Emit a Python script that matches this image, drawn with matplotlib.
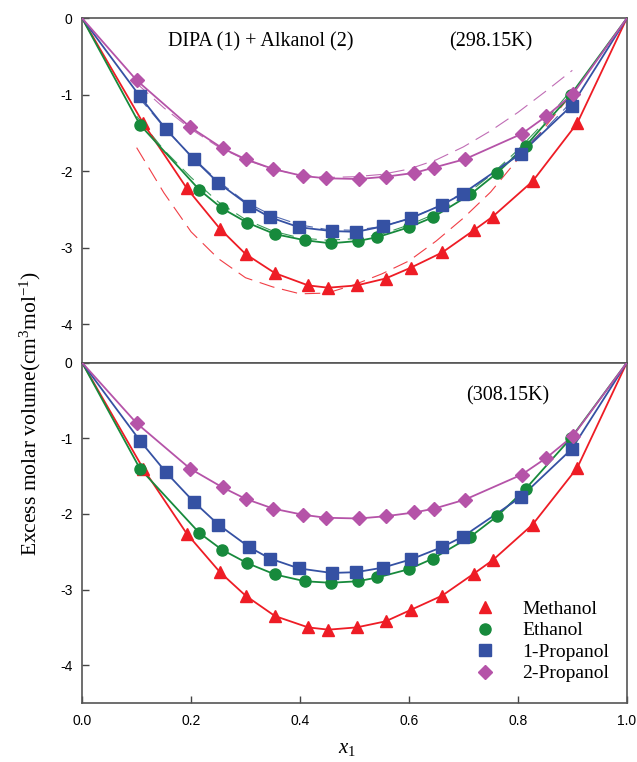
import numpy as np
import matplotlib
matplotlib.use("Agg")
import matplotlib.pyplot as plt
from matplotlib.lines import Line2D

plt.rcParams['font.family'] = ['Liberation Sans', 'DejaVu Sans']
plt.rcParams['mathtext.fontset'] = 'custom'
plt.rcParams['mathtext.rm'] = 'Liberation Serif'
plt.rcParams['mathtext.it'] = 'Liberation Serif:italic'

names = ["Methanol", "Ethanol", "1-Propanol", "2-Propanol"]

# mole fractions x1 for each alkanol
x_meoh = [0.112, 0.192, 0.253, 0.300, 0.354, 0.415, 0.452, 0.504, 0.557, 0.603, 0.661, 0.719, 0.754, 0.827, 0.909]
x_etoh = [0.106, 0.215, 0.256, 0.303, 0.354, 0.409, 0.456, 0.506, 0.542, 0.600, 0.644, 0.713, 0.762, 0.814, 0.897]
x_1pr = [0.106, 0.154, 0.205, 0.250, 0.307, 0.345, 0.398, 0.458, 0.503, 0.552, 0.604, 0.660, 0.699, 0.805, 0.899]
x_2pr = [0.100, 0.198, 0.258, 0.300, 0.351, 0.405, 0.447, 0.508, 0.557, 0.610, 0.646, 0.703, 0.807, 0.852, 0.901]

# VE at 298.15 K
v298_meoh = [-1.37, -2.22, -2.75, -3.08, -3.33, -3.49, -3.52, -3.49, -3.40, -3.26, -3.06, -2.77, -2.59, -2.13, -1.37]
v298_etoh = [-1.39, -2.24, -2.48, -2.67, -2.82, -2.90, -2.94, -2.91, -2.86, -2.73, -2.60, -2.30, -2.02, -1.67, -1.00]
v298_1pr = [-1.02, -1.45, -1.84, -2.15, -2.45, -2.60, -2.73, -2.78, -2.79, -2.72, -2.61, -2.44, -2.29, -1.77, -1.14]
v298_2pr = [-0.81, -1.42, -1.70, -1.84, -1.97, -2.06, -2.09, -2.10, -2.07, -2.02, -1.95, -1.84, -1.51, -1.28, -0.99]

# VE at 308.15 K
v308_meoh = [-1.40, -2.26, -2.77, -3.08, -3.35, -3.50, -3.53, -3.50, -3.42, -3.27, -3.08, -2.79, -2.61, -2.14, -1.39]
v308_etoh = [-1.40, -2.25, -2.47, -2.65, -2.80, -2.89, -2.91, -2.89, -2.84, -2.73, -2.59, -2.30, -2.03, -1.67, -1.00]
v308_1pr = [-1.03, -1.45, -1.84, -2.14, -2.44, -2.59, -2.72, -2.78, -2.77, -2.71, -2.60, -2.44, -2.30, -1.78, -1.14]
v308_2pr = [-0.80, -1.40, -1.65, -1.80, -1.93, -2.01, -2.05, -2.06, -2.03, -1.98, -1.93, -1.81, -1.48, -1.26, -0.97]

# model curves (dashed) at 298.15 K
x_fit = [0.10, 0.15, 0.20, 0.25, 0.30, 0.35, 0.40, 0.45, 0.50, 0.55, 0.60, 0.65, 0.70, 0.75, 0.80, 0.85, 0.90]
fit_meoh = [-1.69, -2.28, -2.79, -3.14, -3.39, -3.51, -3.60, -3.59, -3.48, -3.34, -3.17, -2.91, -2.61, -2.27, -1.84, -1.42, -0.98]
fit_etoh = [-1.28, -1.72, -2.08, -2.40, -2.63, -2.78, -2.87, -2.90, -2.88, -2.82, -2.70, -2.55, -2.33, -2.05, -1.72, -1.35, -0.92]
fit_1pr = [-1.00, -1.42, -1.80, -2.13, -2.40, -2.58, -2.70, -2.76, -2.77, -2.72, -2.62, -2.47, -2.28, -2.05, -1.76, -1.45, -1.08]
fit_2pr = [-0.85, -1.17, -1.45, -1.68, -1.85, -1.97, -2.05, -2.08, -2.07, -2.04, -1.97, -1.85, -1.68, -1.47, -1.23, -0.96, -0.68]

colors = ["#ee1c25", "#178a3c", "#3551a3", "#b553a8"]
markers = ["^", "o", "s", "D"]
msizes = [9, 8, 8, 7]

xs = [x_meoh, x_etoh, x_1pr, x_2pr]
v298 = [v298_meoh, v298_etoh, v298_1pr, v298_2pr]
v308 = [v308_meoh, v308_etoh, v308_1pr, v308_2pr]
fits = [fit_meoh, fit_etoh, fit_1pr, fit_2pr]

fig = plt.figure(figsize=(6.37, 7.62), dpi=100)
ax1 = fig.add_axes([0.129, 0.524, 0.855, 0.452])
ax2 = fig.add_axes([0.129, 0.0774, 0.855, 0.4466])


def draw(ax, vals):
    for i in range(4):
        xx = [0.0] + xs[i] + [1.0]
        yy = [0.0] + vals[i] + [0.0]
        ax.plot(xx, yy, color=colors[i], lw=1.3, zorder=3)
        ax.plot(xs[i], vals[i], linestyle="none", marker=markers[i], ms=msizes[i],
                color=colors[i], mec=colors[i], zorder=4)


draw(ax1, v298)
draw(ax2, v308)
for i in range(4):
    ax1.plot(x_fit[:len(fits[i])], fits[i], color=colors[i], lw=0.8,
             dashes=(14, 7), alpha=0.85, zorder=2)

for ax in (ax1, ax2):
    ax.set_xlim(0, 1)
    ax.set_ylim(-4.5, 0)
    ax.set_yticks([0, -1, -2, -3, -4])
    ax.set_yticklabels(["0", "-1", "-2", "-3", "-4"])
    ax.tick_params(direction="in", length=5, width=1, labelsize=10, color="#444444")
    ax.tick_params(axis="y", pad=7)
    for s in ax.spines.values():
        s.set_color("#555555")
        s.set_linewidth(1.2)

ax1.set_xticks([])
ax2.set_xticks([0, 0.2, 0.4, 0.6, 0.8, 1.0])
ax2.set_xticklabels(["0.0", "0.2", "0.4", "0.6", "0.8", "1.0"])
ax2.tick_params(axis="x", pad=8)

ax1.text(0.328, -0.31, "DIPA (1) + Alkanol (2)", family="Liberation Serif",
         fontsize=14.5, ha="center", va="center")
ax1.text(0.75, -0.31, "(298.15K)", family="Liberation Serif",
         fontsize=14.5, ha="center", va="center")
ax2.text(0.782, -0.44, "(308.15K)", family="Liberation Serif",
         fontsize=14.5, ha="center", va="center")

handles = [Line2D([], [], linestyle="none", marker=markers[i], ms=msizes[i],
                  color=colors[i], mec=colors[i]) for i in range(4)]
ax2.legend(handles, names, loc="upper left", bbox_to_anchor=(0.69, 0.325),
           frameon=False, prop={"family": "Liberation Serif", "size": 14},
           handletextpad=0.9, labelspacing=0.2, borderaxespad=0)

fig.text(0.047, 0.458, "Excess molar volume(cm$^3$mol$^{-1}$)",
         family="Liberation Serif", fontsize=15.5, rotation=90,
         ha="center", va="center")
fig.text(0.545, 0.018, "$x_1$", fontsize=15, ha="center", va="center")

fig.savefig("out.png", dpi=100)
